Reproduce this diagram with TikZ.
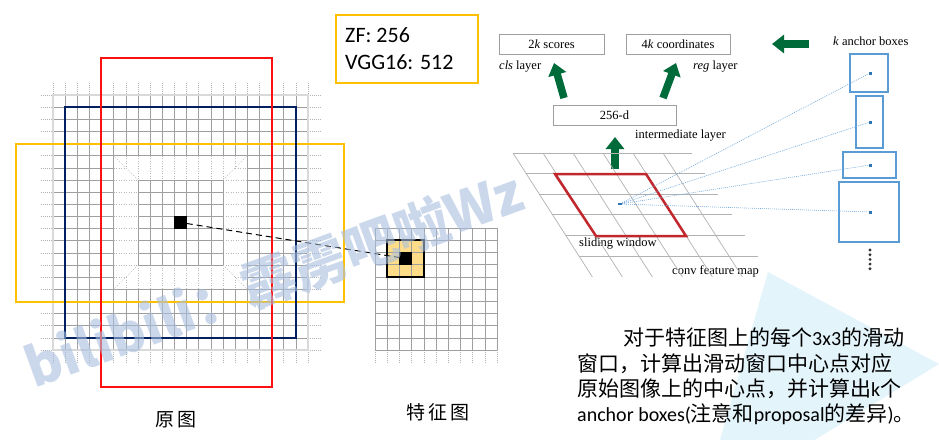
\documentclass[tikz,border=0pt]{standalone}
\usepackage{fontspec}
\setmainfont{Liberation Serif}
\newfontfamily\cjkfam{Noto Sans CJK SC}
\newfontfamily\calfam{Carlito}
\usetikzlibrary{arrows.meta}
\definecolor{zforange}{HTML}{FFC000}
\definecolor{navyb}{HTML}{002060}
\definecolor{redb}{HTML}{FF1010}
\definecolor{garrow}{HTML}{006B3A}
\definecolor{swred}{HTML}{C1272D}
\definecolor{anchorblue}{HTML}{5B9BD5}
\definecolor{anchordot}{HTML}{2E75B6}
\definecolor{tribg}{HTML}{E3F4FB}
\definecolor{hlfill}{HTML}{FFDD88}
\definecolor{wmcol}{HTML}{A9BFDF}
\newcommand\zhf{\cjkfam\fontsize{21}{21}\selectfont}
\newcommand\laf{\calfam\fontsize{20}{20}\selectfont}
\newcommand\rpnf{\fontsize{12.5}{12.5}\selectfont}
\begin{document}
\begin{tikzpicture}[x=1pt,y=-1pt,
  gridl/.style={draw=gray!75, line width=0.6pt},
  borderl/.style={draw=gray!30, line width=1.5pt},
  stubl/.style={draw=gray!60, line width=0.5pt, dash pattern=on 1pt off 1pt},
  dotl/.style={draw=gray!55, line width=0.5pt, dash pattern=on 1pt off 1.5pt},
  bigarrow/.style={draw=garrow, line width=7.5pt, -{Triangle[length=12pt,width=18pt]}},
  rpnbox/.style={draw=gray!75, line width=0.8pt, minimum height=20pt, inner sep=0pt, font=\rpnf},
  rpnlab/.style={anchor=west, inner sep=0pt, font=\rpnf},
  anchorbox/.style={draw=anchorblue, line width=1.2pt, inner sep=0pt},
  anchordotst/.style={fill=anchordot, minimum size=3pt, inner sep=0pt},
  anchorline/.style={draw=anchorblue!85, line width=0.6pt, dash pattern=on 1pt off 1pt},
  fgrid/.style={draw=gray!75, line width=0.6pt},
  pgrid/.style={draw=gray!60, line width=0.7pt}
]
\useasboundingbox (0,0) rectangle (939,439);
\fill[white] (0,0) rectangle (939,439);
% background triangle
\begin{scope}
\clip (0,0) rectangle (939,439);
\fill[tribg] (768,272) -- (939,364) -- (700,510) -- cycle;
\end{scope}

% ===== left grid (original image) =====
\begin{scope}[shift={(53,95)}, x=12.142857pt, y=-12.142857pt]
  \foreach \i in {0,...,21}{
    \draw[gridl] (\i,0) -- (\i,21);
    \draw[gridl] (0,\i) -- (21,\i);
    \draw[stubl] (\i,-1) -- (\i,0);
    \draw[stubl] (\i,21) -- (\i,22);
    \draw[stubl] (-1,\i) -- (0,\i);
    \draw[stubl] (21,\i) -- (22,\i);
  }
  \fill[white] (5,5) rectangle (16,16);
  \draw[gridl] (5,5) rectangle (16,16);
  \foreach \i in {7,...,14}{
    \draw[dotl] (\i,5) -- (\i,7);
    \draw[dotl] (\i,14) -- (\i,16);
    \draw[dotl] (5,\i) -- (7,\i);
    \draw[dotl] (14,\i) -- (16,\i);
  }
  \foreach \i in {6,15}{
    \draw[dotl] (\i,5) -- (\i,6);
    \draw[dotl] (\i,15) -- (\i,16);
    \draw[dotl] (5,\i) -- (6,\i);
    \draw[dotl] (15,\i) -- (16,\i);
  }
  \draw[dotl] (5,5) -- (7,7);
  \draw[dotl] (16,5) -- (14,7);
  \draw[dotl] (5,16) -- (7,14);
  \draw[dotl] (16,16) -- (14,14);
  \foreach \i in {7,...,14}{
    \draw[gridl] (\i,7) -- (\i,14);
    \draw[gridl] (7,\i) -- (14,\i);
  }
  \draw[borderl] (0,0) rectangle (21,21);
\end{scope}
\draw[zforange, line width=2.6pt] (16,144) rectangle (344,302);
\draw[navyb, line width=2.8pt] (65,107) rectangle (296,338);
\draw[redb, line width=2.6pt] (101,58) rectangle (272,387);
\node[fill=black, minimum size=12.14pt, inner sep=0pt] (bsq) at (180.5,222.5) {};

% ===== feature map grid =====
\fill[hlfill] (387.2,240.2) rectangle (423.8,276.8);
\begin{scope}[shift={(375,228)}, x=12.2pt, y=-12.2pt]
  \foreach \i in {0,...,10}{
    \draw[fgrid] (\i,0) -- (\i,10);
    \draw[fgrid] (0,\i) -- (10,\i);
    \draw[stubl] (\i,10) -- (\i,11);
  }
\end{scope}
\node[draw=black, line width=1.8pt, minimum size=36.6pt, inner sep=0pt] (fwin) at (405.5,258.5) {};
\node[fill=black, minimum size=12.2pt, inner sep=0pt] (fsq) at (405.5,258.5) {};
\draw[black, line width=1pt, dash pattern=on 6pt off 4pt] (bsq) -- (fsq);

\node[font=\cjkfam\fontsize{19}{19}\selectfont, inner sep=0pt] (lbl1) at (176,420) {原\hspace{3pt}图};
\node[font=\cjkfam\fontsize{19}{19}\selectfont, inner sep=0pt] (lbl2) at (438,412) {特\hspace{3pt}征\hspace{3pt}图};

% ===== ZF box =====
\node[draw=zforange, line width=1.5pt, minimum width=142pt, minimum height=68pt, anchor=north west, inner sep=0pt] (zfbox) at (335,14) {};
\node[anchor=base west, inner sep=0pt, font=\calfam\fontsize{22}{22}\selectfont] (zf1) at (345,42) {ZF: 256};
\node[anchor=base west, inner sep=0pt, font=\calfam\fontsize{22}{22}\selectfont] (zf2) at (345,69) {VGG16: 512};

% ===== RPN diagram =====
\node[rpnbox, minimum width=105pt] (scores) at (551.5,44) {2\textit{k} scores};
\node[rpnbox, minimum width=104pt] (coords) at (678,44) {4\textit{k} coordinates};
\node[rpnbox, minimum width=123pt] (d256) at (614.5,115) {256-d};
\node[rpnlab] (clsl) at (499,67) {\textit{cls} layer};
\node[rpnlab] (regl) at (693,67) {\textit{reg} layer};
\node[rpnlab] (interl) at (635,136) {intermediate layer};
\node[rpnlab] (slidel) at (579,244) {sliding window};
\node[rpnlab] (convl) at (672,271) {conv feature map};
\node[rpnlab] (kanch) at (833,41) {\textit{k} anchor boxes};

\coordinate (a1s) at (564,98); \coordinate (a1e) at (554,63);
\coordinate (a2s) at (663,98); \coordinate (a2e) at (676,63);
\coordinate (a3s) at (615,169); \coordinate (a3e) at (615,137);
\coordinate (a4s) at (809,44); \coordinate (a4e) at (772,44);
\draw[bigarrow] (a1s) -- (a1e);
\draw[bigarrow] (a2s) -- (a2e);
\draw[bigarrow] (a3s) -- (a3e);
\draw[bigarrow] (a4s) -- (a4e);

% conv feature map grid (parallelogram)
\foreach \j in {0,...,5}{
  \pgfmathsetmacro\yy{153+\j*20.6}
  \pgfmathsetmacro\xl{513+0.64*(\yy-153)}
  \pgfmathsetmacro\xr{692+0.64*(\yy-153)}
  \draw[pgrid] (\xl,\yy) -- (\xr,\yy);
}
\foreach \k in {0,...,5}{
  \draw[pgrid] ({513+30*\k},153) -- ({592.4+30*\k},277);
}
\draw[swred, line width=2.5pt, line join=miter] (555,174) -- (646,174) -- (686,236) -- (596,236) -- cycle;
\node[fill=anchordot, minimum width=4pt, minimum height=2.5pt, inner sep=0pt] (swdot) at (620,204) {};

% anchor boxes
\node[anchorbox, minimum width=38pt, minimum height=38pt] (ab1) at (869,73) {};
\node[anchorbox, minimum width=27pt, minimum height=52pt] (ab2) at (869.5,122) {};
\node[anchorbox, minimum width=53pt, minimum height=26pt] (ab3) at (869.5,165) {};
\node[anchorbox, minimum width=60pt, minimum height=60pt] (ab4) at (869,212) {};
\node[anchordotst] (ad1) at (870,73) {};
\node[anchordotst] (ad2) at (870,122) {};
\node[anchordotst] (ad3) at (870,165) {};
\node[anchordotst] (ad4) at (870,212) {};
\foreach \n in {1,...,4}{ \draw[anchorline] (swdot) -- (ad\n); }
\foreach \k in {0,...,4}{ \fill[gray!40!black] (870,{250+4.7*\k}) circle (1.6pt); }

% ===== explanation text =====
\node[anchor=base west, inner sep=0pt] (t1) at (623,345) {\zhf 对于特征图上的每个\laf 3x3\zhf 的滑动};
\node[anchor=base west, inner sep=0pt] (t2) at (577,371) {\zhf 窗口，计算出滑动窗口中心点对应};
\node[anchor=base west, inner sep=0pt] (t3) at (577,396) {\zhf 原始图像上的中心点，并计算出\laf k\zhf 个};
\node[anchor=base west, inner sep=0pt] (t4) at (577,421) {\laf anchor boxes(\zhf 注意和\laf proposal\zhf 的差异\laf )\zhf 。};

% ===== watermark =====
\node[rotate=20, text=wmcol, opacity=0.6, inner sep=0pt, font=\cjkfam\bfseries\fontsize{54}{54}\selectfont] (wmark) at (274,279) {bilibili：霹雳吧啦Wz};
\end{tikzpicture}
\end{document}
